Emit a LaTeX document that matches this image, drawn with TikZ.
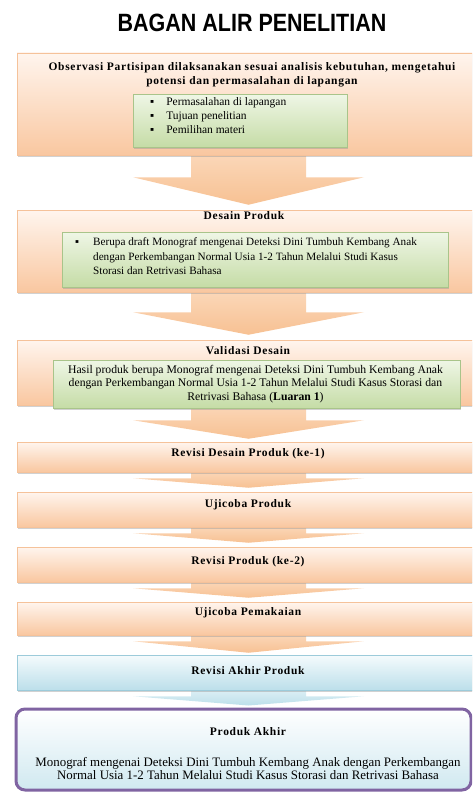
\documentclass[tikz,border=0pt]{standalone}
\usepackage{fontspec}
\setmainfont{Liberation Serif}
\newfontfamily\wideserif[LetterSpace=6]{Liberation Serif}
\newfontfamily\titlefont[FakeStretch=0.86]{Liberation Sans}
\usetikzlibrary{positioning,calc,shadows,backgrounds}

\definecolor{peachtop}{HTML}{FFF5EE}
\definecolor{peachbot}{HTML}{F9C7A0}
\definecolor{peachline}{HTML}{F5C29A}
\definecolor{arrowtop}{HTML}{FBD7B8}
\definecolor{arrowbot}{HTML}{F7C193}
\definecolor{greentop}{HTML}{EFF6E6}
\definecolor{greenbot}{HTML}{C5DCA6}
\definecolor{greenline}{HTML}{A9C48A}
\definecolor{bluetop}{HTML}{F5FBFD}
\definecolor{bluebot}{HTML}{BCDFEA}
\definecolor{blueline}{HTML}{9CCBDA}
\definecolor{purpleline}{HTML}{8064A2}

\tikzset{
  boxshadow/.style={drop shadow={shadow xshift=1pt, shadow yshift=-1.5pt, fill=black!40, opacity=.45}},
  peachbox/.style={draw=peachline, line width=0.5pt, top color=peachtop, bottom color=peachbot,
    minimum width=463pt, inner sep=0pt, boxshadow},
  greenbox/.style={draw=greenline, line width=0.5pt, top color=greentop, bottom color=greenbot,
    inner sep=0pt, boxshadow},
  bluebox/.style={draw=blueline, line width=0.5pt, top color=bluetop, bottom color=bluebot,
    minimum width=463pt, inner sep=0pt, boxshadow},
  finalbox/.style={draw=purpleline, line width=3pt, rounded corners=9pt, top color=white,
    bottom color=bluebot!70, minimum width=455pt, inner sep=0pt},
  arrowpeach/.style={top color=arrowtop, bottom color=arrowbot},
  arrowblue/.style={top color=bluetop!60!bluebot, bottom color=bluebot},
  boxtitle/.style={font=\wideserif\fontsize{11.5}{14}\selectfont\bfseries, align=center, inner sep=0pt},
  boxtext/.style={font=\fontsize{11.5}{14}\selectfont, align=center, inner sep=0pt},
}

% block arrow: from node, to node, neck depth below source, gap above target
\newcommand\flowarrow[5][arrowpeach]{%
  \path[#1] let \p1=(#2.south), \p2=(#3.north) in
    (191pt,\y1+1pt) -- (191pt,\y1-#4pt) -- (133pt,\y1-#4pt) -- (248.5pt,\y2+#5pt)
    -- (364pt,\y1-#4pt) -- (306pt,\y1-#4pt) -- (306pt,\y1+1pt) -- cycle;}

\begin{document}
\begin{tikzpicture}[x=1pt, y=-1pt]
  \useasboundingbox (0,0) rectangle (472,792);
  \clip (0,0) rectangle (472,792);
  % title
  \node[font=\titlefont\bfseries\fontsize{25}{25}\selectfont] (title) at (252,23) {BAGAN ALIR PENELITIAN};

  % outer boxes
  \node[peachbox, minimum height=102pt] (obs) at (248.5,104) {};
  \node[peachbox, minimum height=82pt] (des) at (248.5,251) {};
  \node[peachbox, minimum height=65pt] (val) at (248.5,372.5) {};
  \node[peachbox, minimum height=30pt] (rev1) at (248.5,457) {};
  \node[peachbox, minimum height=35pt] (uji1) at (248.5,509.5) {};
  \node[peachbox, minimum height=35pt] (rev2) at (248.5,564.5) {};
  \node[peachbox, minimum height=33pt] (uji2) at (248.5,618.5) {};
  \node[bluebox, minimum height=35pt] (revakhir) at (248.5,672.5) {};
  \node[finalbox, minimum height=81pt] (akhir) at (243.5,749.5) {};

  % arrows between the steps
  \begin{scope}[on background layer]
    \flowarrow{obs}{des}{22}{5}
    \flowarrow{des}{val}{20}{5}
    \flowarrow{val}{rev1}{15}{3}
    \flowarrow{rev1}{uji1}{6}{4}
    \flowarrow{uji1}{rev2}{6}{4}
    \flowarrow{rev2}{uji2}{6}{4}
    \flowarrow{uji2}{revakhir}{6}{2}
    \flowarrow[arrowblue]{revakhir}{akhir}{6}{2}
  \end{scope}

  % inner green boxes
  \node[greenbox, minimum width=214pt, minimum height=53pt] (obslist) at (240,120.5) {};
  \node[greenbox, minimum width=386pt, minimum height=55pt] (deslist) at (255,259.5) {};
  \node[greenbox, minimum width=407pt, minimum height=48pt] (valtext) at (256.5,384) {};

  % texts
  \node[boxtitle] (obstitle) at (252,75) {Observasi Partisipan dilaksanakan sesuai analisis kebutuhan, mengetahui\\potensi dan permasalahan di lapangan};
  \node[boxtext, anchor=west, align=left] (obsitems) at (150,117) {%
    \begin{tabular}{@{}l@{\hspace{12pt}}l@{}}
      ▪ & Permasalahan di lapangan\\
      ▪ & Tujuan penelitian\\
      ▪ & Pemilihan materi
    \end{tabular}};
  \node[boxtitle] (destitle) at (244,216) {Desain Produk};
  \node[boxtext, font=\fontsize{11.2}{14.5}\selectfont, anchor=west, align=left] (desitems) at (75,257.5) {%
    \begin{tabular}{@{}l@{\hspace{14pt}}l@{}}
      ▪ & Berupa draft Monograf mengenai Deteksi Dini Tumbuh Kembang Anak\\
        & dengan Perkembangan Normal Usia 1-2 Tahun Melalui Studi Kasus\\
        & Storasi dan Retrivasi Bahasa
    \end{tabular}};
  \node[boxtitle] (valtitle) at (248,351) {Validasi Desain};
  \node[boxtext, font=\fontsize{11.7}{13.5}\selectfont] (valdesc) at (255.5,384) {Hasil produk berupa Monograf mengenai Deteksi Dini Tumbuh Kembang Anak\\dengan Perkembangan Normal Usia 1-2 Tahun Melalui Studi Kasus Storasi dan\\Retrivasi Bahasa (\textbf{Luaran 1})};
  \node[boxtitle] (rev1text) at (248,454) {Revisi Desain Produk (ke-1)};
  \node[boxtitle] (uji1text) at (248,505) {Ujicoba Produk};
  \node[boxtitle] (rev2text) at (248,562) {Revisi Produk (ke-2)};
  \node[boxtitle] (uji2text) at (248,613) {Ujicoba Pemakaian};
  \node[boxtitle] (revakhirtext) at (248,671) {Revisi Akhir Produk};
  \node[boxtitle] (akhirtitle) at (248,732) {Produk Akhir};
  \node[boxtext, font=\fontsize{12.9}{13.5}\selectfont] (akhirtext) at (248,768.5) {Monograf mengenai Deteksi Dini Tumbuh Kembang Anak dengan Perkembangan\\Normal Usia 1-2 Tahun Melalui Studi Kasus Storasi dan Retrivasi Bahasa};
\end{tikzpicture}
\end{document}
